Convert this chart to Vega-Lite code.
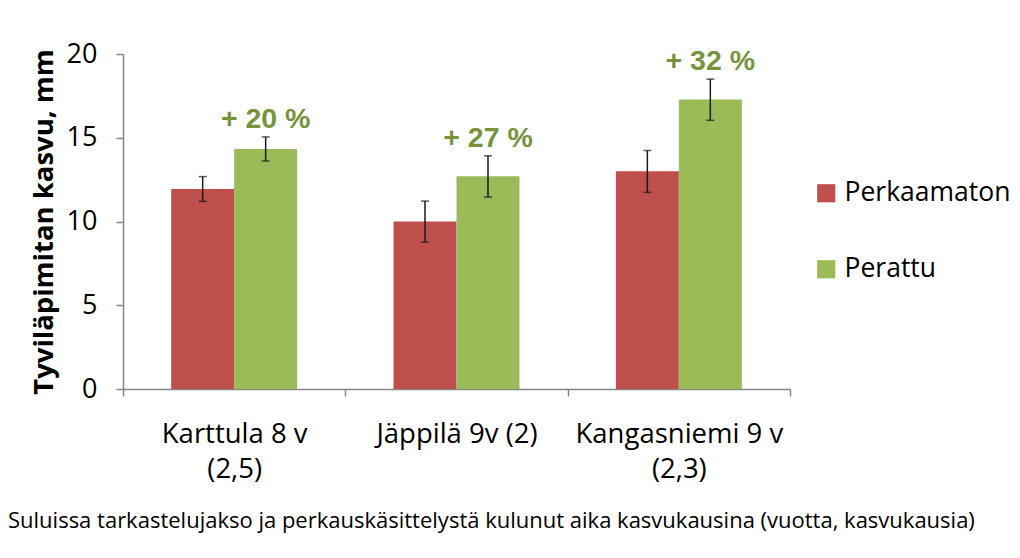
{
  "$schema": "https://vega.github.io/schema/vega-lite/v6.json",
  "width": 667,
  "height": 335,
  "autosize": {"type": "none"},
  "padding": {"left": 123, "top": 54, "right": 230, "bottom": 169},
  "background": "white",
  "config": {"view": {"stroke": null}, "font": "Open Sans"},
  "title": {
    "text": "Suluissa tarkastelujakso ja perkauskäsittelystä kulunut aika kasvukausina (vuotta, kasvukausia)",
    "orient": "bottom",
    "anchor": "start",
    "frame": "group",
    "dx": -115,
    "offset": 28,
    "font": "Open Sans",
    "fontSize": 22,
    "fontWeight": "normal",
    "color": "#000000"
  },
  "data": {
    "values": [
      {"site": "Karttula 8 v (2,5)", "treatment": "Perkaamaton", "value": 11.94, "lo": 11.2, "hi": 12.68, "label": ""},
      {"site": "Karttula 8 v (2,5)", "treatment": "Perattu", "value": 14.33, "lo": 13.61, "hi": 15.05, "label": "+ 20 %"},
      {"site": "Jäppilä 9v (2)", "treatment": "Perkaamaton", "value": 10.0, "lo": 8.77, "hi": 11.22, "label": ""},
      {"site": "Jäppilä 9v (2)", "treatment": "Perattu", "value": 12.7, "lo": 11.46, "hi": 13.92, "label": "+ 27 %"},
      {"site": "Kangasniemi 9 v (2,3)", "treatment": "Perkaamaton", "value": 13.0, "lo": 11.74, "hi": 14.24, "label": ""},
      {"site": "Kangasniemi 9 v (2,3)", "treatment": "Perattu", "value": 17.28, "lo": 16.04, "hi": 18.5, "label": "+ 32 %"}
    ]
  },
  "encoding": {
    "x": {
      "field": "site",
      "type": "nominal",
      "sort": null,
      "scale": {"paddingInner": 0, "paddingOuter": 0},
      "axis": {
        "title": null,
        "labelAngle": 0,
        "labelFont": "Open Sans",
        "labelFontSize": 27.5,
        "labelColor": "#000000",
        "labelPadding": 24,
        "labelLineHeight": 35,
        "labelLimit": 0,
        "labelBaseline": "top",
        "labelExpr": "!isValid(datum.value) ? '' : (datum.value == 'Jäppilä 9v (2)' ? datum.value : split(replace(datum.value, ' (', '|('), '|'))",
        "tickBand": "extent",
        "tickSize": 7,
        "tickColor": "#868686",
        "domainColor": "#868686",
        "domainWidth": 1.5,
        "tickWidth": 1.5
      }
    },
    "xOffset": {
      "field": "treatment",
      "type": "nominal",
      "sort": ["Perkaamaton", "Perattu"],
      "scale": {"paddingInner": 0, "paddingOuter": 0.765}
    }
  },
  "layer": [
    {
      "mark": {"type": "bar"},
      "encoding": {
        "y": {
          "field": "value",
          "type": "quantitative",
          "scale": {"domain": [0, 20], "nice": false},
          "axis": {
            "title": "Tyviläpimitan kasvu, mm",
            "titleFont": "Open Sans",
            "titleFontSize": 27.5,
            "titleFontWeight": "bold",
            "titleColor": "#000000",
            "titlePadding": 8,
            "values": [0, 5, 10, 15, 20],
            "grid": false,
            "labelFont": "Open Sans",
            "labelFontSize": 27,
            "labelColor": "#000000",
            "labelPadding": 19,
            "tickSize": 7,
            "tickColor": "#868686",
            "domainColor": "#868686",
            "domainWidth": 1.5,
            "tickWidth": 1.5
          }
        },
        "color": {
          "field": "treatment",
          "type": "nominal",
          "sort": ["Perkaamaton", "Perattu"],
          "scale": {"domain": ["Perkaamaton", "Perattu"], "range": ["#BE4F4C", "#9BBB59"]},
          "legend": {
            "title": null,
            "orient": "none",
            "legendX": 690,
            "legendY": 126,
            "symbolType": "square",
            "symbolSize": 330,
            "symbolStrokeWidth": 0,
            "labelFont": "Open Sans",
            "labelFontSize": 26.5,
            "labelColor": "#000000",
            "labelOffset": 5,
            "labelLimit": 0,
            "rowPadding": 49
          }
        }
      }
    },
    {
      "mark": {"type": "rule", "color": "#1a1a1a", "strokeWidth": 1.5},
      "encoding": {
        "y": {"field": "lo", "type": "quantitative"},
        "y2": {"field": "hi"}
      }
    },
    {
      "mark": {"type": "tick", "color": "#1a1a1a", "thickness": 1.5, "size": 8},
      "encoding": {"y": {"field": "lo", "type": "quantitative"}}
    },
    {
      "mark": {"type": "tick", "color": "#1a1a1a", "thickness": 1.5, "size": 8},
      "encoding": {"y": {"field": "hi", "type": "quantitative"}}
    },
    {
      "transform": [{"filter": "datum.label != ''"}],
      "mark": {"type": "text", "font": "Liberation Sans", "fontWeight": "bold", "fontSize": 28.5, "color": "#77933C", "baseline": "alphabetic", "dy": -9},
      "encoding": {
        "y": {"field": "hi", "type": "quantitative"},
        "text": {"field": "label"}
      }
    }
  ]
}
